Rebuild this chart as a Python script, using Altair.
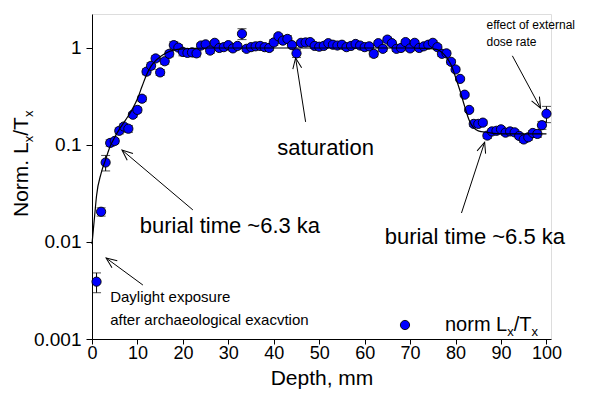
import math
import altair as alt
import pandas as pd

FONT = "Liberation Sans, Arial, sans-serif"

# ---- data ----
depth = [1, 2, 3, 4, 5, 6, 7, 8, 9, 10, 11, 12, 13, 14, 15, 16, 17, 18, 19, 20,
         21, 22, 23, 24, 25, 26, 27, 28, 29, 30, 31, 32, 33, 34, 35, 36, 37, 38, 39, 40,
         41, 42, 43, 44, 45, 46, 47, 48, 49, 50, 51, 52, 53, 54, 55, 56, 57, 58, 59, 60,
         61, 62, 63, 64, 65, 66, 67, 68, 69, 70, 71, 72, 73, 74, 75, 76, 77, 78, 79, 80,
         81, 82, 83, 84, 85, 86, 87, 88, 89, 90, 91, 92, 93, 94, 95, 96, 97, 98, 99, 100]
norm = [0.0039, 0.0205, 0.066, 0.105, 0.11, 0.14, 0.155, 0.147, 0.205, 0.23,
        0.30, 0.57, 0.655, 0.78, 0.56, 0.73, 0.87, 1.07, 1.01, 0.91,
        0.89, 0.90, 0.88, 1.06, 1.09, 0.94, 1.13, 1.00, 1.02, 1.07,
        0.99, 1.05, 1.40, 0.98, 1.02, 1.04, 1.05, 1.02, 1.00, 1.14,
        1.32, 1.19, 1.24, 1.07, 0.88, 1.13, 1.14, 1.15, 1.05, 1.03,
        1.05, 1.12, 1.08, 1.06, 1.08, 1.02, 1.05, 1.10, 1.06, 1.02,
        1.04, 0.87, 1.12, 0.98, 1.22, 1.12, 0.98, 1.00, 1.15, 0.99,
        1.13, 1.00, 1.04, 1.08, 1.13, 1.02, 0.87, 0.88, 0.72, 0.60,
        0.48, 0.33, 0.23, 0.165, 0.165, 0.17, 0.125, 0.138, 0.14, 0.145,
        0.134, 0.138, 0.135, 0.124, 0.114, 0.12, 0.133, 0.13, 0.16, 0.21]
err = [0.0009, 0.002, 0.012, 0.008, 0.007, 0.01, 0.01, 0.012, 0.012, 0.015,
       0.02, 0.04, 0.05, 0.05, 0.04, 0.05, 0.06, 0.09, 0.07, 0.08,
       0.07, 0.08, 0.07, 0.06, 0.06, 0.06, 0.06, 0.06, 0.07, 0.06,
       0.06, 0.06, 0.18, 0.06, 0.06, 0.06, 0.06, 0.06, 0.06, 0.08,
       0.07, 0.08, 0.10, 0.06, 0.08, 0.06, 0.06, 0.06, 0.06, 0.06,
       0.06, 0.06, 0.06, 0.06, 0.06, 0.06, 0.06, 0.06, 0.06, 0.06,
       0.06, 0.06, 0.06, 0.06, 0.07, 0.06, 0.06, 0.06, 0.06, 0.06,
       0.06, 0.06, 0.06, 0.06, 0.06, 0.06, 0.05, 0.05, 0.04, 0.03,
       0.02, 0.015, 0.01, 0.01, 0.01, 0.01, 0.008, 0.008, 0.008, 0.008,
       0.008, 0.008, 0.008, 0.008, 0.008, 0.008, 0.008, 0.01, 0.015, 0.04]

# fitted model curve
curve_depth = [0, 0.3, 0.6, 1, 2, 3, 4, 5, 6, 7, 8, 9, 10, 11, 12, 13, 14, 15, 16, 17,
               18, 20, 22, 25, 30, 40, 50, 60, 70, 74, 76, 77, 78, 79, 80, 81, 82, 83,
               84, 85, 87, 90, 95, 100]
curve_val = [0.0095, 0.0135, 0.019, 0.03, 0.051, 0.071, 0.097, 0.12, 0.145, 0.17,
             0.2, 0.24, 0.3, 0.4, 0.53, 0.65, 0.74, 0.81, 0.87, 0.92,
             0.95, 0.98, 0.99, 1.0, 1.0, 1.0, 1.0, 1.0, 1.0, 0.99,
             0.96, 0.9, 0.8, 0.67, 0.5, 0.36, 0.25, 0.18, 0.15, 0.14,
             0.135, 0.13, 0.13, 0.13]

# annotations (data coordinates)
big_text = ["burial time ~6.3 ka", "burial time ~6.5 ka"]
big_x = [10.5, 64.4]
big_y = [0.0146, 0.0113]
sat_text = ["saturation"]
sat_x = [51.4]
sat_y = [0.093]
small_text = ["Daylight exposure", "after archaeological exacvtion"]
small_x = [4.0, 4.0]
small_y = [0.00271, 0.00157]
tiny_text = ["effect of external", "dose rate"]
tiny_x = [86.8, 86.8]
tiny_y = [1.73, 1.15]

arrow_tail_x = [11.2, 22.2, 47.0, 81.3, 92.5]
arrow_tail_y = [0.0036, 0.0214, 0.173, 0.0199, 0.83]
arrow_tip_x = [3.1, 6.6, 44.8, 86.4, 98.7]
arrow_tip_y = [0.00684, 0.0888, 0.79, 0.107, 0.24]

# ---- layout ----
W, H = 459, 325
XMAX = 101
YMIN, YMAX = 0.001, 2.24


def px(x):
    return x / XMAX * W


def py(v):
    return (math.log10(YMAX) - math.log10(v)) / (math.log10(YMAX) - math.log10(YMIN)) * H


angles = []
for tx, ty, hx, hy in zip(arrow_tail_x, arrow_tail_y, arrow_tip_x, arrow_tip_y):
    a = math.degrees(math.atan2(py(hy) - py(ty), px(hx) - px(tx))) + 90
    angles.append(a % 360)

df = pd.DataFrame({"depth": depth, "val": norm})
df["lo"] = [v - e for v, e in zip(norm, err)]
df["hi"] = [v + e for v, e in zip(norm, err)]
curve_df = pd.DataFrame({"cx": curve_depth, "cy": curve_val})
arrows_df = pd.DataFrame({"x": arrow_tail_x, "y": arrow_tail_y,
                          "x2": arrow_tip_x, "y2": arrow_tip_y, "ang": angles})

xs = alt.Scale(domain=[0, XMAX], nice=False, zero=False)
ys = alt.Scale(type="log", domain=[YMIN, YMAX], nice=False)

x_axis = alt.Axis(values=[0, 10, 20, 30, 40, 50, 60, 70, 80, 90, 100], title="Depth, mm",
                  titleFont=FONT, titleFontSize=21, titleFontWeight="normal", titleColor="black",
                  labelFont=FONT, labelFontSize=18, labelColor="black", labelFlush=False,
                  tickColor="black", domainColor="black", tickSize=5, grid=False,
                  labelPadding=0, titlePadding=5)
y_axis = alt.Axis(values=[0.001, 0.01, 0.1, 1], format="~g", title="",
                  labelFont=FONT, labelFontSize=19, labelColor="black",
                  tickColor="black", domainColor="black", tickSize=6, grid=False,
                  labelPadding=5)

base = alt.Chart(df)
bars = base.mark_rule(color="black", strokeWidth=1).encode(
    x=alt.X("depth:Q", scale=xs, axis=x_axis),
    y=alt.Y("lo:Q", scale=ys, axis=y_axis),
    y2="hi:Q")
cap_lo = base.mark_tick(orient="horizontal", size=9, thickness=1, color="black").encode(
    x="depth:Q", y="lo:Q")
cap_hi = base.mark_tick(orient="horizontal", size=9, thickness=1, color="black").encode(
    x="depth:Q", y="hi:Q")
pts = base.mark_circle(size=85, color="#0000ff", stroke="black", strokeWidth=0.9, opacity=1).encode(
    x="depth:Q", y="val:Q")
curve = alt.Chart(curve_df).mark_line(color="black", strokeWidth=1.2, interpolate="monotone").encode(
    x="cx:Q", y="cy:Q")


def labels(txts, xv, yv, size, align="left"):
    return alt.Chart(pd.DataFrame({"t": txts, "x": xv, "y": yv})).mark_text(
        align=align, baseline="middle", font=FONT, fontSize=size, color="black").encode(
        x="x:Q", y="y:Q", text="t:N")


big = labels(big_text, big_x, big_y, 22)
sat = labels(sat_text, sat_x, sat_y, 22, "center")
small = labels(small_text, small_x, small_y, 15)
tiny = labels(tiny_text, tiny_x, tiny_y, 12)

arr_lines = alt.Chart(arrows_df).mark_rule(color="black", strokeWidth=1).encode(
    x="x:Q", y="y:Q", x2="x2:Q", y2="y2:Q")
arr_heads = alt.Chart(arrows_df).mark_point(
    shape="M -0.42 1 L 0 0 L 0.42 1", filled=False, size=450, stroke="black",
    strokeWidth=1, opacity=1).encode(
    x="x2:Q", y="y2:Q", angle=alt.Angle("ang:Q", scale=None))

one = pd.DataFrame({"a": [0]})


def ptext(txt, x, y, size, angle=0, baseline="middle"):
    kw = dict(align="left", baseline=baseline, font=FONT, fontSize=size, color="black")
    if angle:
        kw["angle"] = angle
    return alt.Chart(one).mark_text(**kw).encode(
        x=alt.value(x), y=alt.value(y), text=alt.value(txt))


# y-axis title with subscripts (rotated)
ytitle = (ptext("Norm. L", -64, 203, 21, 270, "alphabetic")
          + ptext("x", -59, 128.3, 13, 270, "alphabetic")
          + ptext("/T", -64, 121.8, 21, 270, "alphabetic")
          + ptext("x", -59, 103.1, 13, 270, "alphabetic"))

# legend
leg_marker = alt.Chart(one).mark_circle(size=85, color="#0000ff", stroke="black",
                                        strokeWidth=0.9, opacity=1).encode(
    x=alt.value(313), y=alt.value(311))
legend = (leg_marker
          + ptext("norm L", 353, 311, 20)
          + ptext("x", 415.2, 318, 13)
          + ptext("/T", 421.7, 311, 20)
          + ptext("x", 439.5, 318, 13))

chart = alt.layer(bars, cap_lo, cap_hi, pts, curve, big, sat, small, tiny, arr_lines, arr_heads,
                  ytitle, legend).properties(
    width=W, height=H,
    padding={"left": 84, "top": 6, "right": 30, "bottom": 55},
    autosize="none",
).configure_view(stroke="black", strokeWidth=1).configure(background="white")

chart.save("out.html", embed_options={"renderer": "svg", "actions": False})
